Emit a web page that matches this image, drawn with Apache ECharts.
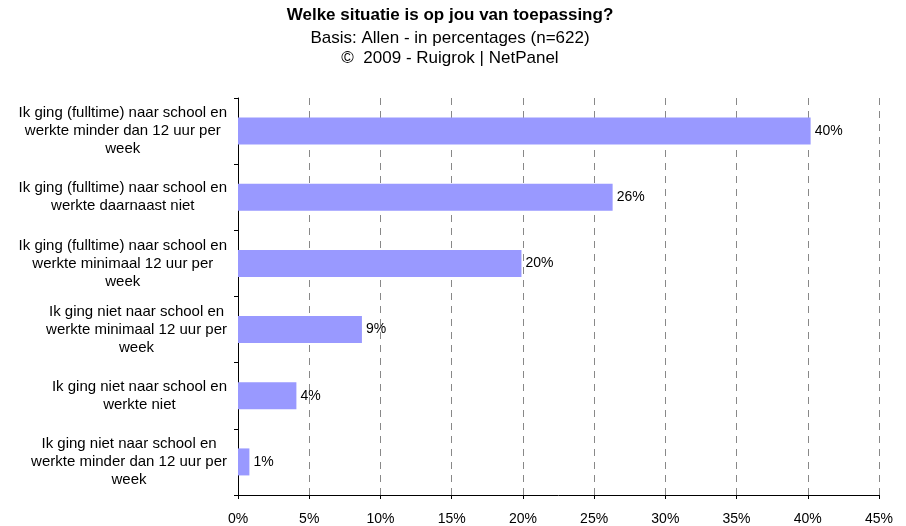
<!DOCTYPE html>
<html>
<head>
<meta charset="utf-8">
<script src="https://cdn.jsdelivr.net/npm/echarts@6/dist/echarts.min.js"></script>
<style>
  html, body { margin: 0; padding: 0; background: #fff; }
  #main { width: 906px; height: 526px; }
</style>
</head>
<body>
<div id="main"></div>
<script>
// categories, top to bottom
var categories = [
    'Ik ging (fulltime) naar school en\nwerkte minder dan 12 uur per\nweek',
    'Ik ging (fulltime) naar school en\nwerkte daarnaast niet',
    'Ik ging (fulltime) naar school en\nwerkte minimaal 12 uur per\nweek',
    'Ik ging niet naar school en\nwerkte minimaal 12 uur per\nweek',
    'Ik ging niet naar school en\nwerkte niet',
    'Ik ging niet naar school en\nwerkte minder dan 12 uur per\nweek'
];
var values = [40.2, 26.3, 19.9, 8.7, 4.1, 0.8];

var font = '"Liberation Sans", Arial, sans-serif';

var myChart = echarts.init(document.getElementById('main'));

var option = {
    animation: false,
    textStyle: { fontFamily: font },
    title: {
        left: 445,
        top: 2,
        textAlign: 'center',
        text: 'Welke situatie is op jou van toepassing?',
        subtext: 'Basis: Allen - in percentages (n=622)\n\u00a9  2009 - Ruigrok | NetPanel',
        itemGap: 4,
        textStyle: {
            fontFamily: font,
            fontSize: 17,
            fontWeight: 'bold',
            color: '#000'
        },
        subtextStyle: {
            fontFamily: font,
            fontSize: 17,
            lineHeight: 20,
            color: '#000'
        }
    },
    grid: {
        left: 238,
        right: 27,
        top: 98,
        bottom: 30,
        containLabel: false
    },
    xAxis: {
        type: 'value',
        min: 0,
        max: 45,
        interval: 5,
        axisLine: { show: true, lineStyle: { color: '#000', width: 1 } },
        axisTick: { show: true, length: 4, lineStyle: { color: '#000' } },
        axisLabel: {
            color: '#000',
            fontSize: 14,
            margin: 17,
            formatter: '{value}%'
        },
        splitLine: {
            show: true,
            lineStyle: { color: '#888', type: [7, 6], width: 1 }
        }
    },
    yAxis: {
        type: 'category',
        inverse: true,
        data: categories,
        axisLine: { show: true, lineStyle: { color: '#000', width: 1 } },
        axisTick: { show: true, length: 4, lineStyle: { color: '#000' } },
        axisLabel: {
            color: '#000',
            margin: 11,
            align: 'right',
            formatter: function (v) { return '{a|' + v + '}'; },
            rich: {
                a: {
                    fontFamily: font,
                    fontSize: 15,
                    lineHeight: 18,
                    color: '#000',
                    align: 'center'
                }
            }
        }
    },
    series: [
        {
            type: 'bar',
            data: values,
            barWidth: 27,
            itemStyle: { color: '#9999FF' },
            label: {
                show: true,
                position: 'right',
                distance: 4,
                color: '#000',
                fontFamily: font,
                fontSize: 14,
                formatter: function (p) { return Math.round(p.value) + '%'; }
            }
        }
    ]
};

myChart.setOption(option);
</script>
</body>
</html>
